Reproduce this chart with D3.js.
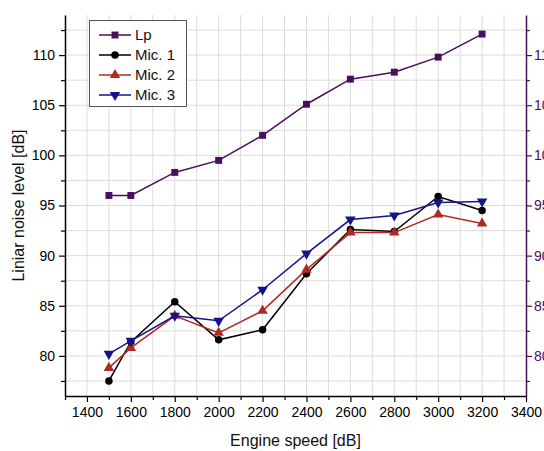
<!DOCTYPE html>
<html><head><meta charset="utf-8">
<script src="https://cdn.jsdelivr.net/npm/d3@7"></script>
<style>body{margin:0;background:#fff}svg{display:block}text{font-family:"Liberation Sans",Arial,sans-serif}</style>
</head><body>
<script>
const speeds = [1500,1600,1800,2000,2200,2400,2600,2800,3000,3200];
const lp   = [96.0,96.0,98.3,99.5,102.0,105.1,107.6,108.3,109.8,112.1];
const mic1 = [77.5,81.4,85.4,81.6,82.6,88.2,92.6,92.4,95.9,94.5];
const mic2 = [78.8,80.8,84.0,82.3,84.5,88.6,92.3,92.3,94.1,93.2];
const mic3 = [80.2,81.5,84.0,83.5,86.6,90.2,93.6,94.0,95.3,95.4];
const xTicks = [1400,1600,1800,2000,2200,2400,2600,2800,3000,3200,3400];
const yTicks = [80,85,90,95,100,105,110];
const seriesNames = ["Lp","Mic. 1","Mic. 2","Mic. 3"];

const W=544,H=451;
const m={l:65,r:18,t:15,b:55};
const svg=d3.select("body").append("svg").attr("width",W).attr("height",H);
const x=d3.scaleLinear().domain([1300,3400]).range([m.l,W-m.r]);
const y=d3.scaleLinear().domain([76,114]).range([H-m.b,m.t]);
const purple="#4a0e5e";
const series=[
 {name:seriesNames[0],vals:lp,color:"#4a0e5e",sym:d3.symbolSquare,size:48,rot:0},
 {name:seriesNames[1],vals:mic1,color:"#000000",sym:d3.symbolCircle,size:44,rot:0},
 {name:seriesNames[2],vals:mic2,color:"#b02a25",sym:d3.symbolTriangle,size:48,rot:0},
 {name:seriesNames[3],vals:mic3,color:"#14148a",sym:d3.symbolTriangle,size:48,rot:180}
];
const fmt=d3.format("d");

// grid
const g=svg.append("g");
d3.range(1400,3400,100).forEach(v=>g.append("line").attr("x1",x(v)).attr("x2",x(v)).attr("y1",y(76)).attr("y2",y(114)).attr("stroke","#dcdcdc").attr("stroke-width",1));
d3.range(77.5,114,2.5).forEach(v=>g.append("line").attr("x1",x(1300)).attr("x2",x(3400)).attr("y1",y(v)).attr("y2",y(v)).attr("stroke","#dcdcdc").attr("stroke-width",1));

// axes
const fs=14;
svg.append("g").attr("transform",`translate(0,${y(76)})`)
 .call(d3.axisBottom(x).tickValues(xTicks).tickFormat(fmt).tickSize(6).tickSizeOuter(0).tickPadding(5));
svg.append("g").attr("transform",`translate(0,${y(76)})`)
 .call(d3.axisBottom(x).tickValues(d3.range(1300,3400,100).filter(v=>!xTicks.includes(v))).tickSize(4).tickFormat(""))
 .call(a=>a.select(".domain").remove());
svg.append("g").attr("transform",`translate(${x(1300)},0)`)
 .call(d3.axisLeft(y).tickValues(yTicks).tickFormat(fmt).tickSize(6).tickSizeOuter(0).tickPadding(4));
svg.append("g").attr("transform",`translate(${x(1300)},0)`)
 .call(d3.axisLeft(y).tickValues(d3.range(77.5,114,5)).tickSize(4).tickFormat(""))
 .call(a=>a.select(".domain").remove());
const right=svg.append("g").attr("transform",`translate(${x(3400)},0)`)
 .call(d3.axisRight(y).tickValues(yTicks).tickFormat(fmt).tickSize(6).tickSizeOuter(0).tickPadding(2));
const rightMinor=svg.append("g").attr("transform",`translate(${x(3400)},0)`)
 .call(d3.axisRight(y).tickValues(d3.range(77.5,114,5)).tickSize(4).tickFormat(""))
 .call(a=>a.select(".domain").remove());
svg.selectAll(".tick text").attr("font-size",fs).attr("font-family","Liberation Sans, Arial, sans-serif");
svg.selectAll(".domain").attr("stroke-width",1.5);
svg.selectAll(".tick line").attr("stroke-width",1.2);
right.selectAll("line,path").attr("stroke",purple);
rightMinor.selectAll("line").attr("stroke",purple);
right.selectAll("text").attr("fill",purple);

// titles
svg.append("text").attr("x",(x(1300)+x(3400))/2).attr("y",446).attr("text-anchor","middle").attr("font-size",16).attr("fill","#111").text("Engine speed [dB]");
svg.append("text").attr("transform",`translate(24,${(y(76)+y(114))/2}) rotate(-90)`).attr("text-anchor","middle").attr("font-size",16).attr("fill","#111").text("Liniar noise level [dB]");

// lines
const line=d3.line().x((d,i)=>x(speeds[i])).y(d=>y(d));
series.forEach(s=>{
 svg.append("path").datum(s.vals).attr("d",line).attr("fill","none").attr("stroke",s.color).attr("stroke-width",1.5);
 svg.selectAll(null).data(s.vals).enter().append("path")
  .attr("d",d3.symbol().type(s.sym).size(s.size))
  .attr("transform",(d,i)=>`translate(${x(speeds[i])},${y(d)}) rotate(${s.rot})`)
  .attr("fill",s.color);
});

// legend
const lg=svg.append("g");
lg.append("rect").attr("x",89.5).attr("y",20.5).attr("width",97).attr("height",86).attr("fill","#fff").attr("stroke","#555").attr("stroke-width",1);
series.forEach((s,i)=>{
 const yy=35+i*20;
 lg.append("line").attr("x1",99).attr("x2",131).attr("y1",yy).attr("y2",yy).attr("stroke",s.color).attr("stroke-width",1.5);
 lg.append("path").attr("d",d3.symbol().type(s.sym).size(s.size)()).attr("transform",`translate(115,${yy}) rotate(${s.rot})`).attr("fill",s.color);
 lg.append("text").attr("x",135).attr("y",yy+5).attr("font-size",15).attr("fill","#111").text(s.name);
});
</script>
</body></html>
